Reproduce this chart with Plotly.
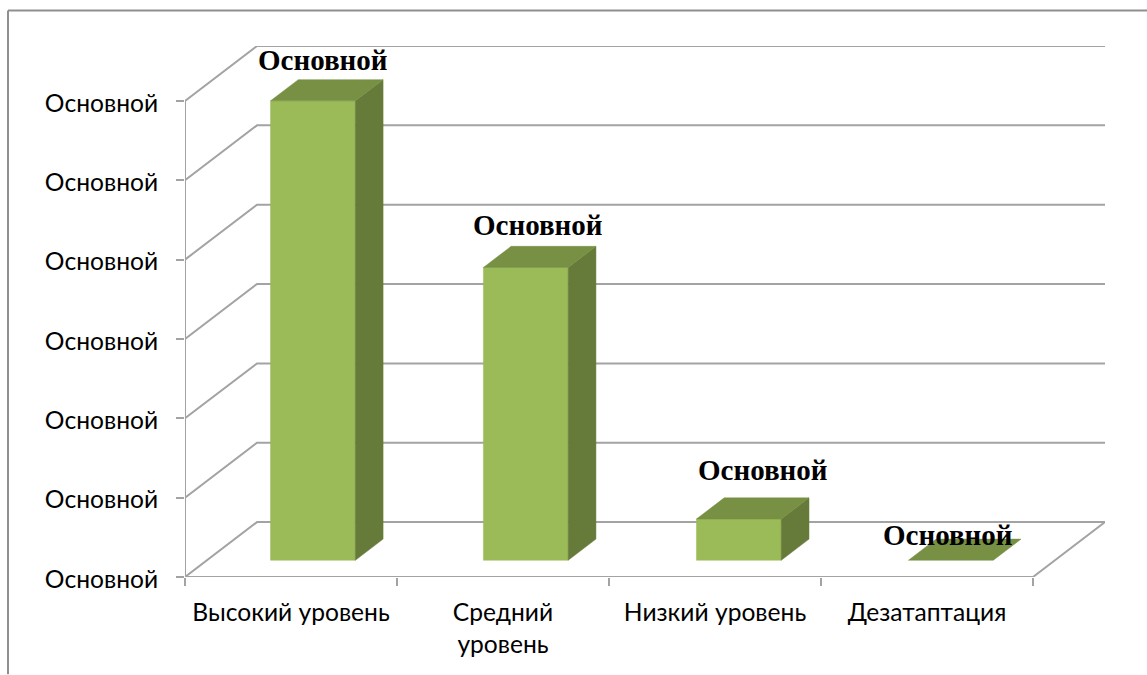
import plotly.graph_objects as go

categories = ["Высокий уровень", "Средний<br>уровень", "Низкий уровень", "Дезатаптация"]
values = [5.79, 3.69, 0.52, 0.0]
value_labels = ["Основной", "Основной", "Основной", "Основной"]
y_ticks = [0, 1, 2, 3, 4, 5, 6]
y_tick_labels = ["Основной"] * 7

# page geometry (pixels)
W, H = 1147, 675
L, R, T, B = 185, 42, 45.5, 97.5
UX = 212.0      # px per category
UY = 79.5       # px per value unit
DX, DY = 72 / UX, 55 / UY      # depth vector of the floor, in axis units
BAR_W = 0.40
BAR_NUDGE = [0.0, 0.004, 0.009, 0.009]
INSET, DEPTH = 0.305, 0.385    # bar position within the floor depth
LABEL_SHIFT = [(10, 41), (12, 42), (24, 49), (-3, 25)]

GRID = "#a3a3a3"
FRONT, TOP, SIDE = "#9bbb59", "#779043", "#667a39"

fig = go.Figure()


def line(xs, ys):
    fig.add_trace(go.Scatter(x=xs, y=ys, mode="lines", cliponaxis=False, hoverinfo="skip",
                             line=dict(color=GRID, width=2), showlegend=False))


def poly(xs, ys, color):
    fig.add_trace(go.Scatter(x=xs, y=ys, mode="lines", fill="toself", fillcolor=color,
                             cliponaxis=False, hoverinfo="skip",
                             line=dict(color=color, width=0.5), showlegend=False))


n = len(categories)
for v in y_ticks:
    line([0, DX, n + DX], [v, v + DY, v + DY])
line([0, 0], [0, y_ticks[-1]])
line([0, n, n + DX], [0, 0, DY])

for i, v in enumerate(values):
    x0 = i + 0.5 + BAR_NUDGE[i] - BAR_W / 2 + INSET * DX
    x1 = x0 + BAR_W
    y0 = INSET * DY
    y1 = y0 + v
    ox, oy = DEPTH * DX, DEPTH * DY
    if v > 0:
        poly([x0, x1, x1, x0, x0], [y0, y0, y1, y1, y0], FRONT)
        poly([x1, x1 + ox, x1 + ox, x1, x1], [y0, y0 + oy, y1 + oy, y1, y0], SIDE)
    poly([x0, x1, x1 + ox, x0 + ox, x0], [y1, y1, y1 + oy, y1 + oy, y1], TOP)
    sx, sy = LABEL_SHIFT[i]
    fig.add_annotation(x=(x0 + x1) / 2, y=y1, text=value_labels[i], showarrow=False,
                       xshift=sx, yshift=sy, xanchor="center", yanchor="middle",
                       font=dict(family="Liberation Serif", size=29, color="#000000", weight="bold"))

fig.update_layout(
    width=W, height=H, margin=dict(l=L, r=R, t=T, b=B, pad=0, autoexpand=False),
    paper_bgcolor="#ffffff", plot_bgcolor="#ffffff", showlegend=False,
    font=dict(family="Lato, Noto Sans", size=24.6, color="#000000"),
    xaxis=dict(range=[0, n + DX], showgrid=False, zeroline=False, showline=False,
               tickmode="array", tickvals=[i + 0.5 for i in range(n)], ticktext=categories,
               ticks="", ticklabelstandoff=18, tickangle=0,
               minor=dict(tickmode="array", tickvals=list(range(n + 1)), ticks="outside",
                          ticklen=8, tickwidth=2, tickcolor=GRID, showgrid=False)),
    yaxis=dict(range=[0, y_ticks[-1] + DY], showgrid=False, zeroline=False, showline=False,
               tickmode="array", tickvals=y_ticks, ticktext=y_tick_labels,
               ticks="outside", ticklen=8, tickwidth=2, tickcolor=GRID, ticklabelstandoff=13,
               ticklabelshift=2),
    shapes=[
        dict(type="line", xref="paper", yref="paper", x0=(8 - L) / (W - L - R), x1=(W - L) / (W - L - R),
             y0=(H - B - 10) / (H - T - B), y1=(H - B - 10) / (H - T - B), line=dict(color="#8f8f8f", width=2)),
        dict(type="line", xref="paper", yref="paper", x0=(8 - L) / (W - L - R), x1=(8 - L) / (W - L - R),
             y0=(H - B - 10) / (H - T - B), y1=(H - B - H) / (H - T - B), line=dict(color="#8f8f8f", width=2)),
    ],
)

fig.write_html("out.html", config=dict(displayModeBar=False),
               post_script="document.body.style.margin='0';document.body.style.overflow='hidden';")
